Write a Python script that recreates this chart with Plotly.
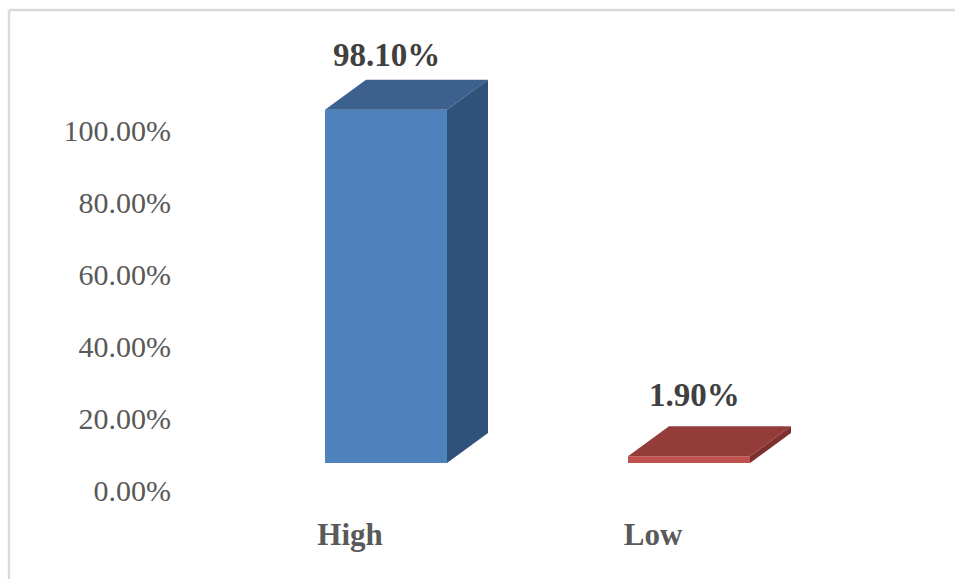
import plotly.graph_objects as go

# ---- data ----
categories = ["High", "Low"]
values = [98.10, 1.90]          # percent
value_labels = ["98.10%", "1.90%"]
tick_values = [0, 20, 40, 60, 80, 100]
tick_text = ["%.2f%%" % t for t in tick_values]

front_colors = ["#4F81BD", "#C0504D"]
top_colors = ["#3C618F", "#943C3A"]
side_colors = ["#30527A", "#7E302E"]

# ---- geometry (pixel-based layout converted to axis units) ----
W, H = 955, 579
ml, mr, mt, mb = 180, 15, 20, 69
plot_w = W - ml - mr
plot_h = H - mt - mb
px_per_cat = 303.0
px_per_pct = 3.6

# label axes (floor front): category 0 at px 350, value 0 at px 490
x_lab0 = 350 - ml
y_lab0 = 490 - mt
xr = [-x_lab0 / px_per_cat, (plot_w - x_lab0) / px_per_cat]
yr = [-(plot_h - y_lab0) / px_per_pct, y_lab0 / px_per_pct]

# bar axes: category 0 centre at px 386, value 0 at px 463
x_bar0 = 386 - ml
y_bar0 = 463 - mt
xr2 = [-x_bar0 / px_per_cat, (plot_w - x_bar0) / px_per_cat]
yr2 = [-(plot_h - y_bar0) / px_per_pct, y_bar0 / px_per_pct]

bar_w = 122 / px_per_cat
dx = 41 / px_per_cat
dy = 30 / px_per_pct

fig = go.Figure()

# invisible trace to carry the label axes
fig.add_trace(go.Scatter(x=[0, 1], y=[0, 0], mode="none", showlegend=False,
                         hoverinfo="skip", xaxis="x", yaxis="y"))

# front faces
fig.add_trace(go.Bar(x=[0, 1], y=values, width=bar_w, base=0,
                     marker=dict(color=front_colors, line=dict(width=0)),
                     showlegend=False, xaxis="x2", yaxis="y2",
                     hovertext=categories))

for i, v in enumerate(values):
    xl = i - bar_w / 2
    xrr = i + bar_w / 2
    # top face
    fig.add_trace(go.Scatter(
        x=[xl, xl + dx, xrr + dx, xrr, xl],
        y=[v, v + dy, v + dy, v, v],
        fill="toself", fillcolor=top_colors[i], mode="lines",
        line=dict(width=0, color=top_colors[i]), showlegend=False,
        hoverinfo="skip", xaxis="x2", yaxis="y2"))
    # side face
    fig.add_trace(go.Scatter(
        x=[xrr, xrr, xrr + dx, xrr + dx, xrr],
        y=[0, v, v + dy, dy, 0],
        fill="toself", fillcolor=side_colors[i], mode="lines",
        line=dict(width=0, color=side_colors[i]), showlegend=False,
        hoverinfo="skip", xaxis="x2", yaxis="y2"))

font_fam = "Liberation Serif"

# data labels
label_x_shift = [0, 5]
label_y_shift = [5, 11]
for i, v in enumerate(values):
    fig.add_annotation(x=i, y=v + dy, xref="x2", yref="y2",
                       text="<b>%s</b>" % value_labels[i], showarrow=False,
                       xanchor="center", yanchor="bottom",
                       yshift=label_y_shift[i], xshift=label_x_shift[i],
                       font=dict(family=font_fam, size=33, color="#404040"))

fig.update_layout(
    width=W, height=H,
    margin=dict(l=ml, r=mr, t=mt, b=mb),
    paper_bgcolor="white", plot_bgcolor="white",
    xaxis=dict(range=xr, tickvals=[0, 1],
               ticktext=["<b>%s</b>" % c for c in categories],
               showgrid=False, zeroline=False, showline=False, ticks="",
               tickfont=dict(family=font_fam, size=31, color="#595959"),
               ticklabelstandoff=3),
    yaxis=dict(range=yr, tickvals=tick_values, ticktext=tick_text,
               showgrid=False, zeroline=False, showline=False, ticks="",
               tickfont=dict(family=font_fam, size=30, color="#595959"),
               ticklabelstandoff=8),
    xaxis2=dict(range=xr2, overlaying="x", anchor="y2", visible=False),
    yaxis2=dict(range=yr2, overlaying="y", anchor="x2", visible=False),
)

# chart-area border (top and left edges visible)
fig.add_shape(type="line", xref="x domain", yref="y domain",
              x0=-(ml - 9) / plot_w, x1=(plot_w + mr) / plot_w,
              y0=1 + (mt - 10) / plot_h, y1=1 + (mt - 10) / plot_h,
              line=dict(color="#D9D9D9", width=2.5))
fig.add_shape(type="line", xref="x domain", yref="y domain",
              x0=-(ml - 9) / plot_w, x1=-(ml - 9) / plot_w,
              y0=1 + (mt - 10) / plot_h, y1=-mb / plot_h,
              line=dict(color="#D9D9D9", width=2.5))

fig.write_html("out.html")
